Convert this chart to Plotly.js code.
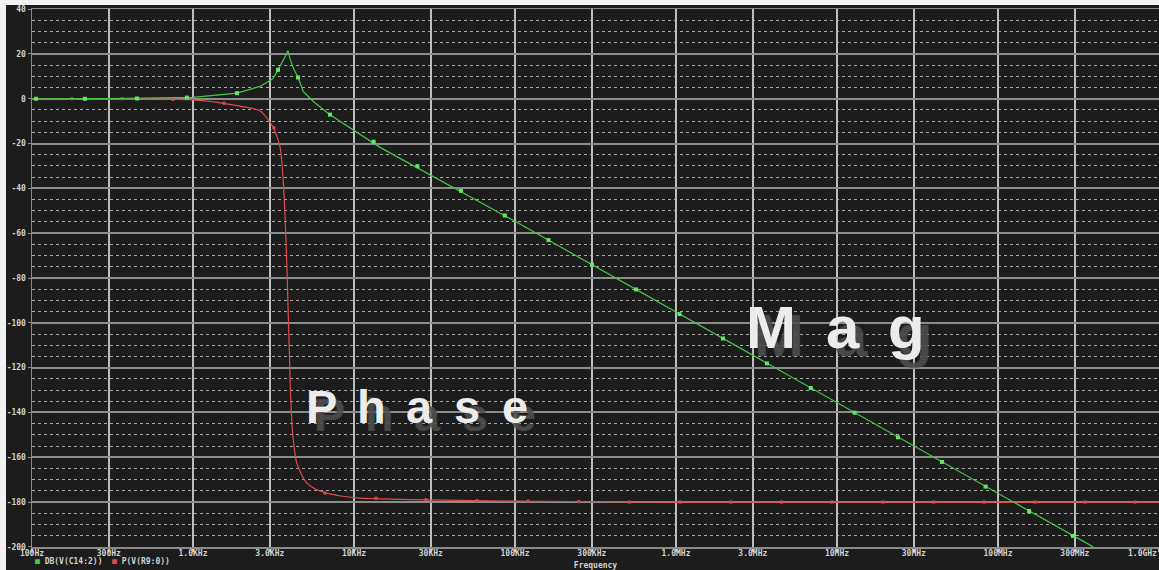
<!DOCTYPE html>
<html>
<head>
<meta charset="utf-8">
<script src="https://cdn.plot.ly/plotly-3.0.1.min.js"></script>
<style>
  html, body { margin:0; padding:0; background:#f2f2f2; width:1159px; height:570px; overflow:hidden; }
  #chart { position:absolute; left:6px; top:5px; width:1153px; height:565px; }
</style>
</head>
<body>
<div id="chart"></div>
<script>
// ---- data ----
const magFreq = [100, 300, 1000, 1877, 2607, 3140, 3373, 3600, 3780, 3890, 4000, 4180, 4490, 4842, 5585, 7096, 10000, 14500, 1e5, 1e6, 1e7, 1e8, 3.9e8];
const magDb   = [0, 0.1, 0.6, 2.5, 5.5, 9, 12.9, 16.5, 19.5, 21.5, 18, 14, 9.5, 3.3, -1.2, -7.1, -14.2, -21.7, -54.7, -95.2, -135.7, -176.2, -200];

const magMarkFreq = [106, 213, 449, 916, 1877, 3373, 4490, 7096, 13250, 24770, 46210, 86440, 161500, 300700, 564400, 1052000, 1959000, 3673000, 6871000, 12850000, 23930000, 44870000, 83750000, 156000000, 292400000];
const magMarkDb   = [0, 0, 0.1, 0.5, 2.5, 12.9, 9.5, -7.1, -19.2, -30.1, -41.1, -52.1, -63.1, -74.1, -85.1, -96.1, -107.0, -118.1, -129.1, -140.1, -151.1, -162.1, -173.1, -184.0, -195.1];

const phFreq = [100, 500, 1000, 1410, 1877, 2607, 3140, 3470, 3622, 3727, 3836, 3890, 3960, 4045, 4180, 4406, 4750, 5085, 5800, 6768, 8500, 10900, 28300, 1e5, 1e6, 1e9];
const phDeg  = [0, -0.1, -0.5, -1.6, -3.1, -5.4, -12.5, -21.4, -35, -52, -76, -92, -111, -134, -151, -162.5, -168, -171.4, -174.3, -176, -177.4, -178.2, -179, -179.6, -180, -180];

const phMarkFreq = [177, 362, 751, 1560, 3180, 6600, 13700, 28000, 58070, 120500, 248800, 513700, 1060000, 2190000, 4520000, 9310000, 19300000, 39800000, 81900000, 170000000, 347000000, 710000000];
const phMarkDeg  = [0, 0, -0.3, -2, -13, -176, -178.3, -179, -179.4, -179.6, -179.8, -180, -180, -180, -180, -180, -180, -180, -180, -180, -180, -180];

const xTickVals = [100, 300, 1e3, 3e3, 1e4, 3e4, 1e5, 3e5, 1e6, 3e6, 1e7, 3e7, 1e8, 3e8, 1e9];
const xTickText = ["100Hz", "300Hz", "1.0KHz", "3.0KHz", "10KHz", "30KHz", "100KHz", "300KHz", "1.0MHz", "3.0MHz", "10MHz", "30MHz", "100MHz", "300MHz", ""];
const yTickVals = [40, 20, 0, -20, -40, -60, -80, -100, -120, -140, -160, -180, -200];
const yTickText = ["40", "20", "0", "-20", "-40", "-60", "-80", "-100", "-120", "-140", "-160", "-180", "-200"];
const seriesNames = ["DB(V(C14:2))", "P(V(R9:0))"];

// ---- helpers: page-pixel -> paper coordinates of plot area ----
const PL = 32, PR = 1159, PT = 9, PB = 547;
const px = x => (x - PL) / (PR - PL);
const py = y => (PB - y) / (PB - PT);

const GREEN = '#46c846', RED = '#e04a4a';
const tickFont = {family: 'DejaVu Sans Mono', size: 8, color: '#d2d2d2', weight: 700};

const traces = [
  {x: phFreq, y: phDeg, type: 'scatter', mode: 'lines', line: {color: RED, width: 1.2, shape: 'spline', smoothing: 0.6}, name: seriesNames[1], showlegend: false},
  {x: phMarkFreq, y: phMarkDeg, type: 'scatter', mode: 'markers', marker: {color: RED, size: 3, symbol: 'square'}, showlegend: false, hoverinfo: 'skip'},
  {x: magFreq, y: magDb, type: 'scatter', mode: 'lines', line: {color: GREEN, width: 1.2}, name: seriesNames[0], showlegend: false},
  {x: magMarkFreq, y: magMarkDb, type: 'scatter', mode: 'markers', marker: {color: '#62e862', size: 4, symbol: 'square'}, showlegend: false, hoverinfo: 'skip'}
];

const annotations = [];
function bigText(chars, centers, yc, size) {
  chars.forEach((c, i) => {
    annotations.push({xref: 'paper', yref: 'paper', x: px(centers[i]), y: py(yc), text: c, showarrow: false,
      xanchor: 'center', yanchor: 'middle',
      font: {family: 'Liberation Sans', size: size, color: '#ececec', weight: 700, shadow: '8px 8px 1px rgba(78,78,78,0.9)'}});
  });
}
bigText(['P', 'h', 'a', 's', 'e'], [321, 371, 419, 467, 515], 406, 47);
bigText(['M', 'a', 'g'], [771, 843, 906], 327, 60);

// last tick label, right-aligned at the edge
annotations.push({xref: 'paper', yref: 'paper', x: 1, y: py(553), text: '1.0GHz', showarrow: false, xanchor: 'right', yanchor: 'middle', font: tickFont});
// legend
annotations.push({xref: 'paper', yref: 'paper', x: px(33), y: py(561), xanchor: 'left', yanchor: 'middle', showarrow: false,
  text: '<span style="color:' + GREEN + '">■</span> ' + seriesNames[0] + '  <span style="color:' + RED + '">■</span> ' + seriesNames[1],
  font: {family: 'DejaVu Sans Mono', size: 8, color: '#d2d2d2', weight: 700}});

const layout = {
  width: 1153, height: 565,
  margin: {l: 26, r: 0, t: 4, b: 23, pad: 0},
  paper_bgcolor: '#1c1c1c', plot_bgcolor: '#1c1c1c',
  showlegend: false,
  xaxis: {
    type: 'log', range: [2, 9], tickvals: xTickVals, ticktext: xTickText,
    showgrid: true, gridcolor: '#bdbdbd', gridwidth: 1.5,
    showline: true, mirror: true, linecolor: '#8a8a8a', linewidth: 1.5,
    ticks: 'outside', ticklen: 3, tickcolor: '#bdbdbd', tickwidth: 1.5,
    ticklabelstandoff: -5,
    tickfont: tickFont, zeroline: false, fixedrange: true, automargin: false,
    title: {text: 'Frequency', font: {family: 'DejaVu Sans Mono', size: 8, color: '#d2d2d2', weight: 700}, standoff: 8}
  },
  yaxis: {
    range: [-200.05, 40.05], tickvals: yTickVals, ticktext: yTickText,
    showgrid: true, gridcolor: '#8c8c8c', gridwidth: 2,
    minor: {dtick: 5, showgrid: true, gridcolor: '#a8a8a8', griddash: 'dot', gridwidth: 1},
    showline: true, linecolor: '#8a8a8a', linewidth: 1.5,
    ticks: 'outside', ticklen: 3, tickcolor: '#8c8c8c', ticklabeloverflow: 'allow',
    tickfont: tickFont, zeroline: false, fixedrange: true, automargin: false
  },
  annotations: annotations
};

Plotly.newPlot('chart', traces, layout, {staticPlot: true, displayModeBar: false});
</script>
</body>
</html>
